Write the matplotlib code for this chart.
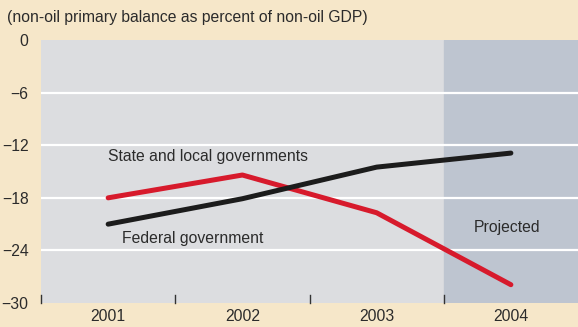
import numpy as np
import matplotlib.pyplot as plt

years = ["2001", "2002", "2003", "2004"]
state_local = [-18.0, -15.4, -19.7, -27.9]
federal = [-21.0, -18.1, -14.5, -12.9]
y_ticks = [0, -6, -12, -18, -24, -30]

plt.rcParams['font.family'] = ['Liberation Sans Narrow', 'Liberation Sans', 'DejaVu Sans']

bg = '#F6E7C9'
fs = 11.3
fig = plt.figure(figsize=(5.78, 3.27), dpi=100, facecolor=bg)
ax = fig.add_axes([0.071, 0.073, 0.929, 0.805])
ax.set_facecolor('#DCDDE0')

x = np.arange(len(years))
ax.axvspan(2.5, 3.5, color='#BEC5D0', zorder=0)
for v in y_ticks[1:-1]:
    ax.axhline(v, color='white', lw=1.6, zorder=1)

ax.plot(x, state_local, color='#D71A2C', lw=3.6, solid_capstyle='round', zorder=3)
ax.plot(x, federal, color='#1C1C1C', lw=3.6, solid_capstyle='round', zorder=3)

ax.text(0.0, -13.3, "State and local governments", fontsize=fs, color='#2b2b2b',
        ha='left', va='center')
ax.text(0.1, -22.6, "Federal government", fontsize=fs, color='#2b2b2b',
        ha='left', va='center')
ax.text(2.97, -21.4, "Projected", fontsize=fs, color='#2b2b2b', ha='center', va='center')

ax.set_xlim(-0.5, 3.5)
ax.set_ylim(-30, 0)
ax.set_yticks(y_ticks)
ax.set_yticklabels(["0" if v == 0 else "\u2212%d" % -v for v in y_ticks], fontsize=fs, color='#2b2b2b')
ax.set_xticks(x)
ax.set_xticklabels(years, fontsize=fs, color='#2b2b2b')
ax.tick_params(axis='both', length=0, pad=4)
ax.tick_params(axis='y', pad=9)

# category boundary ticks
for b in [-0.5, 0.5, 1.5, 2.5]:
    ax.plot([b, b], [-30, -29.1], color='#333333', lw=1, zorder=2, clip_on=False)

for s in ax.spines.values():
    s.set_visible(False)

fig.text(0.012, 0.948, "(non-oil primary balance as percent of non-oil GDP)", fontsize=fs,
         color='#2b2b2b', ha='left', va='center')

fig.savefig("out.png", dpi=100, facecolor=bg)
